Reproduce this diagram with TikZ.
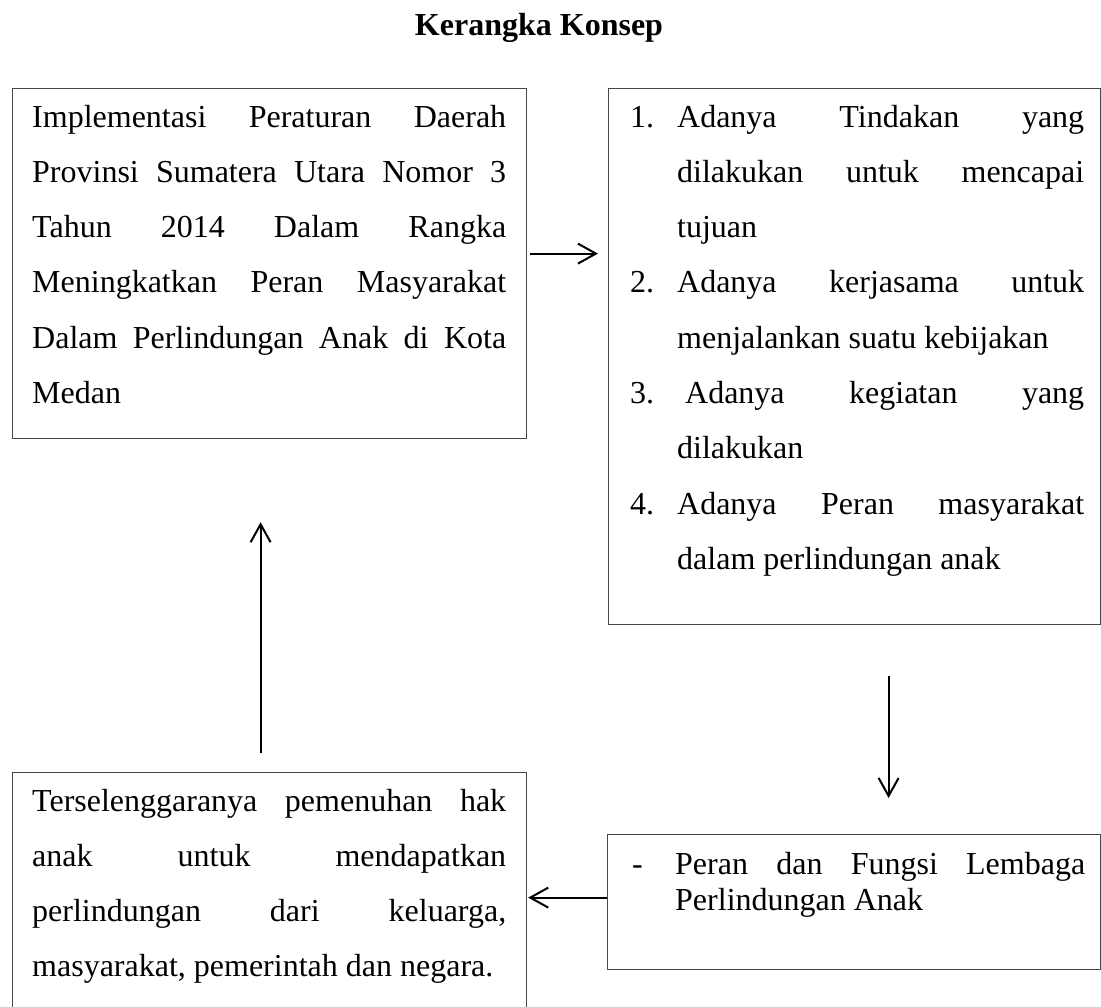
\documentclass[tikz,border=0pt]{standalone}
\usepackage{fontspec}
\setmainfont{Liberation Serif}
\usetikzlibrary{arrows.meta}
\newcommand\JLine[2]{\makebox[#1][s]{#2}}
\begin{document}
\begin{tikzpicture}[x=1pt,y=-1pt,
  box/.style={draw=black!72, line width=1.2pt, inner sep=0pt, anchor=north west},
  conn/.style={line width=2pt, -{Straight Barb[length=18pt,width=20pt,line width=2pt]}},
  txt/.style={anchor=base west, inner sep=0pt},
  dbl/.style={font=\fontsize{32}{55.3}\selectfont},
  sgl/.style={font=\fontsize{32}{36}\selectfont}]
\useasboundingbox (0,0) rectangle (1101,1007);
\clip (0,0) rectangle (1101,1007);
\fill[white] (0,0) rectangle (1101,1007);

% title
\node[anchor=base, inner sep=0pt, font=\fontsize{32}{38}\selectfont\bfseries] (title) at (539,35) {Kerangka Konsep};

% boxes
\node[box, minimum width=514pt, minimum height=350pt] (A) at (12,88) {};
\node[box, minimum width=492pt, minimum height=536pt] (B) at (608,88) {};
\node[box, minimum width=514pt, minimum height=260pt] (C) at (12,772) {};
\node[box, minimum width=493pt, minimum height=135pt] (D) at (607,834) {};

% texts
\node[txt, dbl] (Atext) at (32,127) {\parbox[t]{474pt}{%
\JLine{474pt}{Implementasi Peraturan Daerah}\par
\JLine{474pt}{Provinsi Sumatera Utara Nomor 3}\par
\JLine{474pt}{Tahun 2014 Dalam Rangka}\par
\JLine{474pt}{Meningkatkan Peran Masyarakat}\par
\JLine{474pt}{Dalam Perlindungan Anak di Kota}\par
Medan}};

\node[txt, dbl] (Btext) at (630,127) {\parbox[t]{454pt}{%
\makebox[47pt][l]{1.}\JLine{407pt}{Adanya Tindakan yang}\par
\hspace*{47pt}\JLine{407pt}{dilakukan untuk mencapai}\par
\hspace*{47pt}tujuan\par
\makebox[47pt][l]{2.}\JLine{407pt}{Adanya kerjasama untuk}\par
\hspace*{47pt}menjalankan suatu kebijakan\par
\makebox[47pt][l]{3.}\JLine{407pt}{\hspace{8pt}Adanya kegiatan yang}\par
\hspace*{47pt}dilakukan\par
\makebox[47pt][l]{4.}\JLine{407pt}{Adanya Peran masyarakat}\par
\hspace*{47pt}dalam perlindungan anak}};

\node[txt, dbl] (Ctext) at (32,811) {\parbox[t]{474pt}{%
\JLine{474pt}{Terselenggaranya pemenuhan hak}\par
\JLine{474pt}{anak untuk mendapatkan}\par
\JLine{474pt}{perlindungan dari keluarga,}\par
masyarakat, pemerintah dan negara.}};

\node[txt, sgl] (Dtext) at (632,874) {\parbox[t]{453pt}{%
\makebox[43pt][l]{-}\JLine{410pt}{Peran dan Fungsi Lembaga}\par
\hspace*{43pt}Perlindungan Anak}};

% connectors
\coordinate (a1) at ([yshift=10pt]A.east);
\draw[conn, shorten <=3pt, shorten >=10pt] (a1) -- (a1 -| B.west);

\coordinate (b1) at ([xshift=34pt]B.south);
\draw[conn, shorten <=51pt, shorten >=36pt] (b1) -- (b1 |- D.north);

\coordinate (d1) at ([yshift=4.5pt]D.west);
\draw[conn, shorten >=1pt] (d1) -- (d1 -| C.east);

\coordinate (c1) at ([xshift=-9pt]C.north);
\draw[conn, shorten <=19pt, shorten >=83pt] (c1) -- (c1 |- A.south);
\end{tikzpicture}
\end{document}
